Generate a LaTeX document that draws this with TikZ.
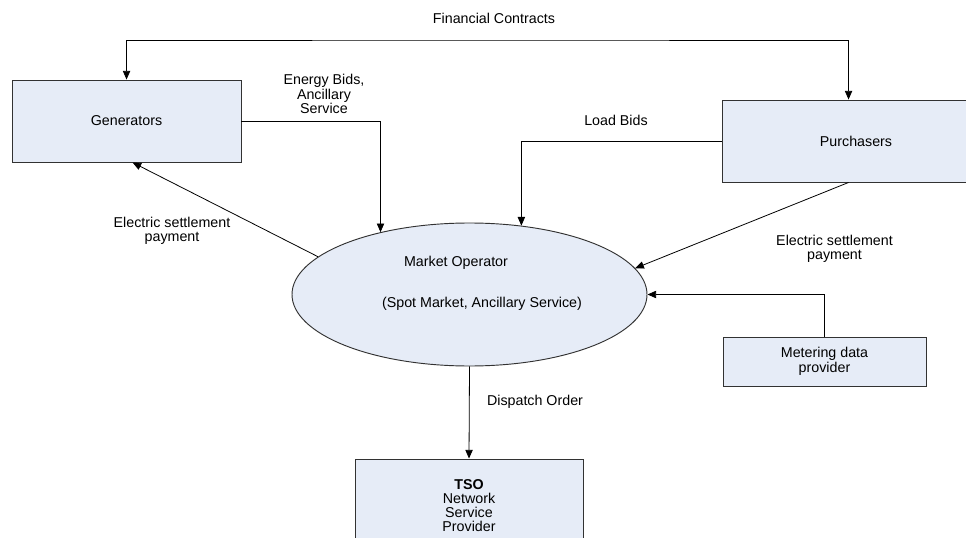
\documentclass[tikz,border=0pt]{standalone}
\usepackage{fontspec}
\setmainfont{Liberation Sans}
\usetikzlibrary{arrows.meta,calc,shapes.geometric}
\definecolor{boxfill}{RGB}{230,236,247}
\definecolor{boxline}{RGB}{50,50,50}
\tikzset{
  entity/.style={draw=boxline, fill=boxfill, line width=0.7pt, inner sep=0pt, align=center},
  lbl/.style={inner sep=0pt, align=center},
  flow/.style={draw=black, line width=0.6pt, -{Triangle[length=6.5pt,width=5.5pt]}},
  flowboth/.style={draw=black, line width=0.6pt, {Triangle[length=6.5pt,width=5.5pt]}-{Triangle[length=6.5pt,width=5.5pt]}},
}
\begin{document}
\begin{tikzpicture}[x=0.75pt, y=-0.75pt,
  font=\fontsize{10.7}{10.8}\selectfont]
\useasboundingbox (0,0) rectangle (966,538);
\clip (0,0) rectangle (966,538);

% participants
\node[entity, minimum width=171.75pt, minimum height=61.5pt] (gen) at (126.5,121) {Generators};
\node[entity, minimum width=201pt, minimum height=61.5pt] (pur) at (856,141) {Purchasers};
\node[entity, ellipse, minimum width=266.25pt, minimum height=107.25pt] (mo) at (469.5,294.5) {};
\node[lbl] (motitle) at (456,263) {Market Operator};
\node[lbl] (mosub) at (482,304) {(Spot Market, Ancillary Service)};
\node[entity, minimum width=152.25pt, minimum height=36.75pt] (met) at (824.5,361.5) {Metering data\\provider};
\node[entity, minimum width=171pt, minimum height=70.5pt] (tso) at (469,506)
  {\textbf{TSO}\\[-1pt]Network\\Service\\Provider};

% flows
\draw[flowboth] ($(gen.north west)+(115,0)$) |- (494,40) -| ($(pur.north west)+(127,0)$);
\draw[flow] (gen.east) -| (mo.145.4);
\draw[flow] (pur.west) -| (mo.53.6);
\draw[flow] (mo.166) -- ($(gen.south west)+(121,0)$);
\draw[flow] ($(pur.south west)+(127,0)$) -- (mo.9.3);
\draw[flow] (met.north) |- (mo.east);
\draw[flow] (mo.south) -- (tso.north);

% flow labels
\node[lbl] (lfc) at (494,18) {Financial Contracts};
\node[lbl] (leb) at (324,94) {Energy Bids,\\Ancillary\\Service};
\node[lbl] (llb) at (616,120) {Load Bids};
\node[lbl] (lpl) at (172,231) {Electric settlement\\payment};
\node[lbl] (lpr) at (834.5,249) {Electric settlement\\payment};
\node[lbl] (ldo) at (535,402) {Dispatch Order};
\end{tikzpicture}
\end{document}
